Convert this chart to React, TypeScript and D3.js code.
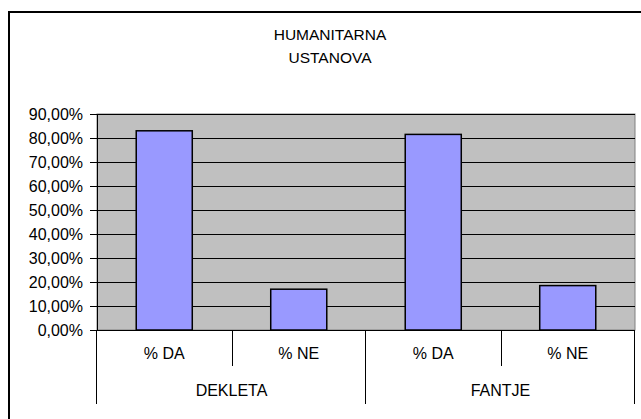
import React from 'react';
import * as d3 from 'd3';

const groups = ['DEKLETA', 'FANTJE'];
const answers = ['% DA', '% NE'];
const dekletaValues = [0.83, 0.17];
const fantjeValues = [0.815, 0.185];
const yTicks = [0, 0.1, 0.2, 0.3, 0.4, 0.5, 0.6, 0.7, 0.8, 0.9];
const titleLines = ['HUMANITARNA', 'USTANOVA'];

const W = 641;
const H = 419;
const plot = { left: 97, right: 635, top: 114, bottom: 330 };
const font = "'Liberation Sans', Arial, sans-serif";

const fmt = (v: number) => d3.format('.2f')(v * 100).replace('.', ',') + '%';

const App: React.FC = () => {
  const valuesByGroup = [dekletaValues, fantjeValues];
  const rows = groups.flatMap((g, gi) =>
    answers.map((a, ai) => ({ key: `${g}-${a}`, group: g, answer: a, value: valuesByGroup[gi][ai] }))
  );

  const xGroup = d3.scaleBand().domain(groups).range([plot.left, plot.right]).padding(0);
  const xSlot = d3.scaleBand().domain(rows.map(r => r.key)).range([plot.left, plot.right]).padding(0);
  const y = d3.scaleLinear().domain([0, 0.9]).range([plot.bottom, plot.top]);

  const slotW = xSlot.bandwidth();
  const barW = slotW / 2.4;

  return (
    <svg
      width={W}
      height={H}
      style={{ position: 'absolute', left: 0, top: 0, background: '#fff' }}
      fontFamily={font}
    >
      {/* chart frame, runs past the picture on right and bottom */}
      <rect x={9} y={12} width={700} height={500} fill="#fff" stroke="#000" strokeWidth={2} />

      {titleLines.map((t, i) => (
        <text key={t} x={330} y={40 + i * 23} textAnchor="middle" fontSize={15.5} fill="#000">
          {t}
        </text>
      ))}

      {/* plot area */}
      <rect
        x={plot.left}
        y={plot.top}
        width={plot.right - plot.left}
        height={plot.bottom - plot.top}
        fill="#c0c0c0"
        stroke="#808080"
        strokeWidth={1}
      />

      {yTicks.slice(1).map(t => (
        <line key={t} x1={plot.left} x2={plot.right} y1={Math.round(y(t)) + 0.5} y2={Math.round(y(t)) + 0.5} stroke="#000" />
      ))}

      {rows.map(r => {
        const x0 = (xSlot(r.key) || 0) + (slotW - barW) / 2;
        return (
          <rect
            key={r.key}
            x={x0}
            y={y(r.value)}
            width={barW}
            height={plot.bottom - y(r.value)}
            fill="#9999ff"
            stroke="#000"
            strokeWidth={1.5}
          />
        );
      })}

      {/* y axis */}
      <line x1={plot.left + 0.5} x2={plot.left + 0.5} y1={plot.top} y2={plot.bottom} stroke="#000" />
      {yTicks.map(t => (
        <g key={t} transform={`translate(0,${Math.round(y(t)) + 0.5})`}>
          <line x1={plot.left - 7} x2={plot.left} stroke="#000" />
          <text x={83} dy="0.35em" textAnchor="end" fontSize={16} fill="#000">
            {fmt(t)}
          </text>
        </g>
      ))}

      {/* x axis */}
      <line x1={plot.left} x2={plot.right} y1={plot.bottom + 0.5} y2={plot.bottom + 0.5} stroke="#000" />
      {rows.map((r, i) =>
        i % 2 === 1 ? (
          <line
            key={'d' + r.key}
            x1={Math.round(xSlot(r.key) || 0) + 0.5}
            x2={Math.round(xSlot(r.key) || 0) + 0.5}
            y1={plot.bottom}
            y2={366}
            stroke="#000"
          />
        ) : null
      )}
      {[...groups.map(g => xGroup(g) || 0), plot.right].map((x, i) => (
        <line key={'g' + i} x1={Math.round(x) - 0.5} x2={Math.round(x) - 0.5} y1={plot.bottom} y2={404} stroke="#000" />
      ))}
      {rows.map(r => (
        <text key={'t' + r.key} x={(xSlot(r.key) || 0) + slotW / 2} y={359} textAnchor="middle" fontSize={16} fill="#000">
          {r.answer}
        </text>
      ))}
      {groups.map(g => (
        <text key={'l' + g} x={(xGroup(g) || 0) + xGroup.bandwidth() / 2} y={396} textAnchor="middle" fontSize={16} fill="#000">
          {g}
        </text>
      ))}
    </svg>
  );
};

export default App;
